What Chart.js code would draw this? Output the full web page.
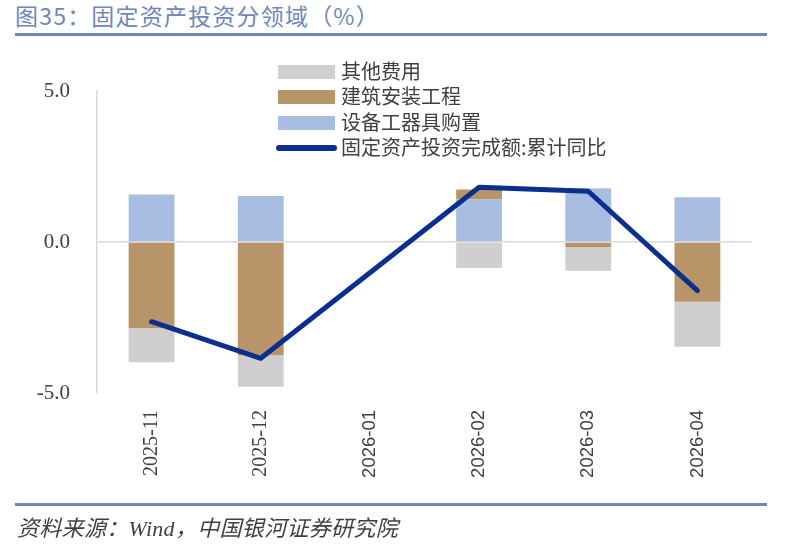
<!DOCTYPE html>
<html>
<head>
<meta charset="utf-8">
<script src="https://cdn.jsdelivr.net/npm/chart.js@4"></script>
<style>
  html, body { margin: 0; padding: 0; background: #ffffff; }
  #wrap { position: relative; width: 785px; height: 555px; overflow: hidden; background: #fff; }
  #title { position: absolute; left: 15px; top: -2px; font-family: "Noto Sans CJK SC", sans-serif; font-size: 23px; color: #6F87BB; white-space: nowrap; letter-spacing: 1.2px; }
  .rule { position: absolute; left: 15px; width: 752px; height: 3px; background: #6E87B8; }
  #footer { position: absolute; left: 17px; top: 510px; font-family: "Liberation Serif", "Noto Sans CJK SC", serif; font-style: italic; font-size: 22px; color: #404040; white-space: nowrap; letter-spacing: 0.3px; }
  #chartbox { position: absolute; left: 0; top: 0; width: 785px; height: 555px; }
  #legend { position: absolute; left: 276px; top: 59px; font-family: "Noto Sans CJK SC", sans-serif; font-size: 20px; color: #404040; }
  .li { position: relative; height: 25.3px; white-space: nowrap; }
  .sw { position: absolute; left: 2px; top: 6px; width: 57px; height: 14px; }
  .swl { position: absolute; left: 0; top: 10px; width: 61px; height: 6.5px; border-radius: 4px; }
  .lt { position: absolute; left: 65px; top: -1px; line-height: 26px; }
</style>
</head>
<body>
<div id="wrap">
  <div id="title">图35：固定资产投资分领域（%）</div>
  <div class="rule" style="top:33px"></div>
  <div id="chartbox"><canvas id="c" width="785" height="555"></canvas></div>
  <div id="legend"></div>
  <div class="rule" style="top:503px"></div>
  <div id="footer">资料来源：Wind，中国银河证券研究院</div>
</div>
<script>
const categories = ['2025-11', '2025-12', '2026-01', '2026-02', '2026-03', '2026-04'];
const equipment = [1.57, 1.52, null, 1.41, 1.78, 1.48];        // 设备工器具购置
const construction = [-2.85, -3.75, null, 0.33, -0.17, -1.98]; // 建筑安装工程
const otherCost = [-1.13, -1.04, null, -0.86, -0.78, -1.49];   // 其他费用
const faiYoY = [-2.64, -3.85, null, 1.81, 1.68, -1.61];        // 固定资产投资完成额:累计同比
const yTicks = [-5, 0, 5];

const COL_EQ = '#A9BDE3', COL_CON = '#B89568', COL_OTH = '#D0CECE', COL_LINE = '#0A2F8E';

const chart = new Chart(document.getElementById('c'), {
  data: {
    labels: categories,
    datasets: [
      { type: 'bar', label: '设备工器具购置', data: equipment, backgroundColor: COL_EQ, stack: 's', order: 1,
        barPercentage: 0.42, categoryPercentage: 1 },
      { type: 'bar', label: '建筑安装工程', data: construction, backgroundColor: COL_CON, stack: 's', order: 1,
        barPercentage: 0.42, categoryPercentage: 1 },
      { type: 'bar', label: '其他费用', data: otherCost, backgroundColor: COL_OTH, stack: 's', order: 1,
        barPercentage: 0.42, categoryPercentage: 1 },
      { type: 'line', label: '固定资产投资完成额:累计同比', data: faiYoY, borderColor: COL_LINE, backgroundColor: COL_LINE,
        borderWidth: 5, pointRadius: 0, spanGaps: true, tension: 0, stack: 'l', order: 0,
        borderCapStyle: 'round', borderJoinStyle: 'round' }
    ]
  },
  options: {
    responsive: false,
    animation: false,
    devicePixelRatio: 1,
    layout: { padding: { left: 0, right: 33, top: 91, bottom: 62 } },
    plugins: { legend: { display: false }, tooltip: { enabled: false }, title: { display: false } },
    scales: {
      x: {
        stacked: true,
        grid: { display: false, drawTicks: false },
        border: { display: false },
        ticks: {
          maxRotation: 90, minRotation: 90, padding: 17, color: '#404040',
          font: (ctx) => (ctx.index < 2 ? { family: 'Liberation Serif', size: 20 } : { family: 'Liberation Sans', size: 18.5 })
        },
        afterFit: (s) => { s.height = 100; }
      },
      y: {
        stacked: true,
        min: -5, max: 5,
        afterBuildTicks: (s) => { s.ticks = yTicks.map(v => ({ value: v })); },
        grid: { drawTicks: false, lineWidth: 1.5, color: (ctx) => (ctx.tick && ctx.tick.value === 0 ? '#D9D9D9' : 'rgba(0,0,0,0)') },
        border: { display: true, color: '#D9D9D9', width: 1.5 },
        ticks: { padding: 27, color: '#404040', font: { family: 'Liberation Serif', size: 21 },
          callback: (v) => Number(v).toFixed(1) },
        afterFit: (s) => { s.width = 97; }
      }
    }
  }
});

// HTML legend built from the chart datasets (order: 其他费用, 建筑安装工程, 设备工器具购置, line)
const legendOrder = [2, 1, 0, 3];
const lg = document.getElementById('legend');
legendOrder.forEach(i => {
  const ds = chart.data.datasets[i];
  const row = document.createElement('div');
  row.className = 'li';
  const sw = document.createElement('div');
  sw.className = ds.type === 'line' ? 'swl' : 'sw';
  sw.style.background = ds.type === 'line' ? ds.borderColor : ds.backgroundColor;
  const t = document.createElement('span');
  t.className = 'lt';
  t.textContent = ds.label;
  row.appendChild(sw); row.appendChild(t);
  lg.appendChild(row);
});
</script>
</body>
</html>
